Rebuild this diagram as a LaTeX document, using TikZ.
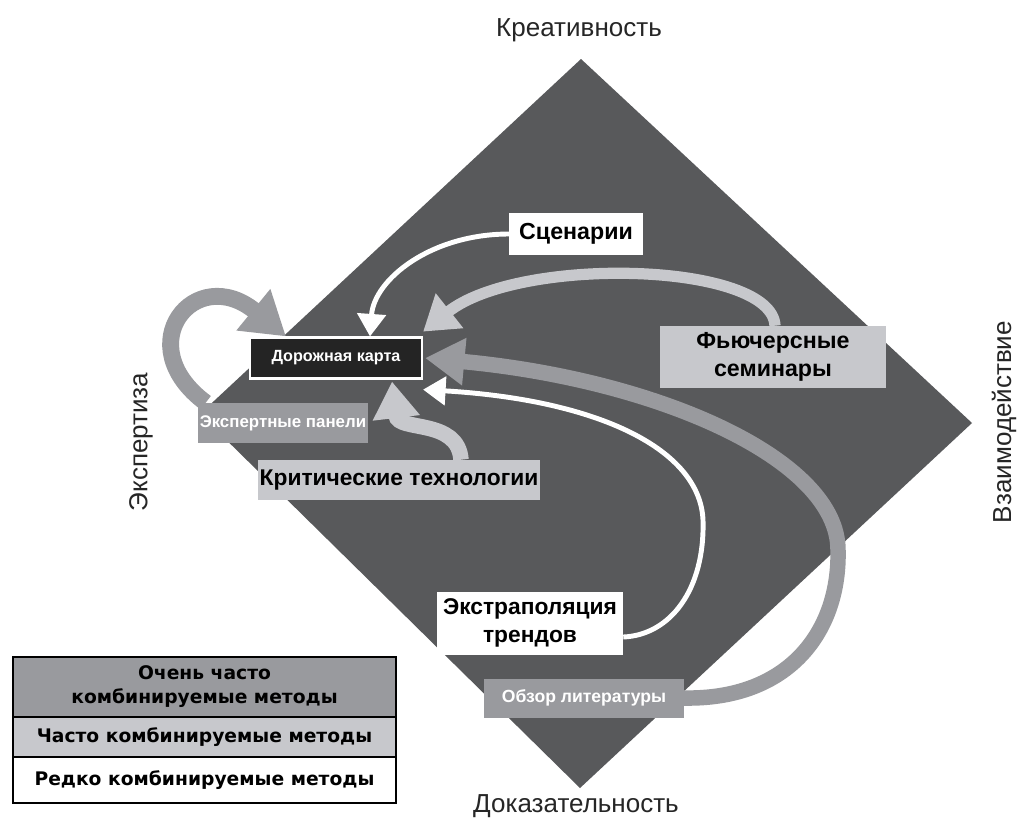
\documentclass[tikz,border=0pt]{standalone}
\usepackage{fontspec}
\setmainfont{Liberation Sans}
\newfontfamily\legendfont{DejaVu Sans}
\usetikzlibrary{arrows.meta,positioning}
\pgfdeclarelayer{bg}
\pgfsetlayers{bg,main}
\definecolor{diamondgray}{HTML}{58595B}
\definecolor{midgray}{HTML}{999A9E}
\definecolor{palegray}{HTML}{C7C8CC}
\definecolor{mapblack}{HTML}{242424}
\tikzset{
    method/.style={shape=rectangle, inner sep=0mm, align=center, font=\bfseries},
    rare/.style={method, fill=white, text=black},
    often/.style={method, fill=palegray, text=black},
    veryoften/.style={method, fill=midgray, text=white},
    axis/.style={font=\fontsize{18.5}{20}\selectfont, text=black!85},
    legendrow/.style={shape=rectangle, draw=black, line width=1pt, inner sep=0mm,
        outer sep=0pt, minimum width=9.575cm, align=center,
        font=\legendfont\bfseries\fontsize{13.3}{17}\selectfont}
}
\tikzset{
    rareflow/.style={draw=white, line width=3.5pt, -{Triangle[width=20pt,length=16pt]}},
    oftenflow/.style={draw=palegray, line width=8pt, -{Triangle[width=30pt,length=24pt]}},
    veryoftenflow/.style={draw=midgray, line width=11pt, -{Triangle[width=32pt,length=28pt]}}
}

\begin{document}
\begin{tikzpicture}[x=0.025cm, y=-0.025cm]
        \useasboundingbox (0,0) rectangle (1018,824);
        % axes of the diamond
        \coordinate (top) at (581,59);
        \coordinate (right) at (972,423);
        \coordinate (bottom) at (580,788);
        \coordinate (left) at (200,414);
        \node (creat) [axis] at (579,30) {Креативность};
        \node (proof) [axis] at (576,806) {Доказательность};
        \node (exper) [axis, rotate=90] at (141,442) {Экспертиза};
        \node (inter) [axis, rotate=90] at (1004,422) {Взаимодействие};
        % methods
        \node (roadmap) [method, fill=mapblack, draw=white, line width=1.5pt, text=white,
            minimum width=4.3cm, minimum height=1.025cm,
            font=\bfseries\fontsize{11.5}{13}\selectfont] at (336,358) {Дорожная карта};
        \node (scen) [rare, minimum width=3.325cm, minimum height=1.05cm,
            font=\bfseries\fontsize{16.5}{18}\selectfont] at (576,234) {Сценарии};
        \node (futur) [often, minimum width=5.65cm, minimum height=1.55cm,
            font=\bfseries\fontsize{16.5}{20}\selectfont] at (773,357) {Фьючерсные\\семинары};
        \node (panel) [veryoften, minimum width=4.25cm, minimum height=1cm,
            font=\bfseries\fontsize{12}{13}\selectfont] at (283,423) {Экспертные панели};
        \node (crit) [often, minimum width=7.05cm, minimum height=1cm,
            font=\bfseries\fontsize{16.2}{18}\selectfont] at (399,480) {Критические технологии};
        \node (trend) [rare, minimum width=4.65cm, minimum height=1.575cm,
            font=\bfseries\fontsize{16.2}{20}\selectfont] at (530,623) {Экстраполяция\\трендов};
        \node (lit) [veryoften, minimum width=4.975cm, minimum height=0.975cm,
            font=\bfseries\fontsize{12.5}{14}\selectfont] at (584,698) {Обзор литературы};
        % legend
        \node (legA) [legendrow, fill=midgray, minimum height=1.5cm] at (204.5,687)
            {Очень часто\\комбинируемые методы};
        \node (legB) [legendrow, fill=palegray, minimum height=1cm, below=0pt of legA]
            {Часто комбинируемые методы};
        \node (legC) [legendrow, fill=white, minimum height=1.15cm, below=0pt of legB]
            {Редко комбинируемые методы};
        \begin{pgfonlayer}{bg}
                \fill[white] (0,0) rectangle (1018,824);
                \fill[diamondgray] (top) -- (right) -- (bottom) -- (left) -- cycle;
                \draw[rareflow] (scen.west) .. controls (430,234) and (374,280) .. ([xshift=0.85cm]roadmap.north);
                \draw[oftenflow] ([xshift=0.05cm]futur.north) .. controls (772,262) and (520,255) .. ([yshift=0.12cm]roadmap.north east);
                \draw[veryoftenflow] (lit.east) .. controls (790,700) and (840,630) .. (838,550)
                    .. controls (838,460) and (660,380) .. ([xshift=0.05cm]roadmap.east);
                \draw[rareflow] ([yshift=-0.35cm]trend.east) .. controls (670,635) and (705,590) .. (703,520)
                    .. controls (700,450) and (600,400) .. ([yshift=-0.25cm]roadmap.south east);
                \draw[oftenflow, line width=11pt, -{Triangle[width=32pt,length=26pt]}]
                    ([xshift=1.55cm]crit.north) .. controls (458,418) and (398,432) .. ([xshift=1.4cm, yshift=-0.05cm]roadmap.south);
                \draw[veryoftenflow, line width=12pt, -{Triangle[width=36pt,length=30pt]}]
                    ([xshift=0.2cm]panel.north west) .. controls (128,345) and (195,262) .. ([xshift=-1.25cm]roadmap.north);
        \end{pgfonlayer}
\end{tikzpicture}
\end{document}
